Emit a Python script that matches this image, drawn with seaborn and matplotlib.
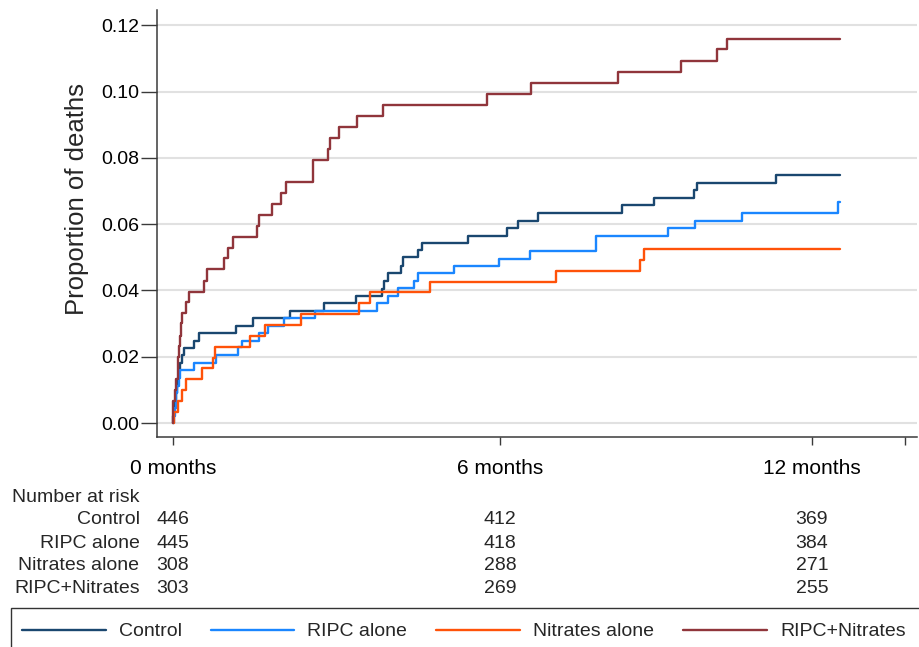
import numpy as np
import pandas as pd
import matplotlib
matplotlib.use("Agg")
import matplotlib.pyplot as plt
import matplotlib.transforms as mtransforms
from matplotlib.lines import Line2D
from matplotlib.patches import Rectangle
import seaborn as sns

# ---------------- data (time in days, cumulative proportion of deaths) ----------------
groups = ["Control", "RIPC alone", "Nitrates alone", "RIPC+Nitrates"]

ctrl_days = [0.3, 0.8, 1.2, 1.7, 2.3, 2.9, 3.4, 4.0, 5.3, 6.5, 12.2, 14.9, 35.8, 45.9, 66.8,
             86.3, 104.4, 119.2, 120.5, 123.0, 130.2, 131.5, 139.8, 142.4, 168.7, 190.8,
             197.1, 208.5, 256.7, 274.5, 297.4, 299.3, 344.7]
ctrl_prop = [0.0022, 0.0045, 0.0067, 0.0090, 0.0112, 0.0135, 0.0157, 0.0181, 0.0205, 0.0225,
             0.0248, 0.0271, 0.0294, 0.0316, 0.0338, 0.0361, 0.0384, 0.0404, 0.0429, 0.0453,
             0.0475, 0.0500, 0.0522, 0.0544, 0.0564, 0.0587, 0.0611, 0.0633, 0.0657, 0.0679,
             0.0702, 0.0725, 0.0749]

ripc_days = [0.5, 1.0, 1.5, 2.0, 2.6, 3.2, 4.0, 12.2, 24.7, 37.4, 39.6, 49.1, 54.4, 63.6,
             81.4, 116.4, 123.0, 128.3, 137.8, 139.8, 160.5, 186.4, 204.2, 241.6, 282.7,
             298.2, 325.3, 380.1]
ripc_prop = [0.0022, 0.0045, 0.0067, 0.0090, 0.0112, 0.0135, 0.0160, 0.0182, 0.0205, 0.0228,
             0.0249, 0.0271, 0.0294, 0.0316, 0.0338, 0.0361, 0.0383, 0.0406, 0.0428, 0.0452,
             0.0474, 0.0496, 0.0519, 0.0563, 0.0587, 0.0610, 0.0633, 0.0667]

nit_days = [0.8, 3.1, 5.1, 7.3, 16.6, 23.0, 24.0, 44.0, 52.6, 73.1, 106.2, 112.5, 146.8,
            218.9, 267.0, 268.9]
nit_prop = [0.0034, 0.0066, 0.0100, 0.0132, 0.0165, 0.0197, 0.0230, 0.0262, 0.0295, 0.0328,
            0.0361, 0.0394, 0.0426, 0.0458, 0.0491, 0.0525]

rn_days = [0.2, 1.1, 2.0, 3.0, 3.5, 4.0, 4.5, 5.0, 7.4, 9.3, 17.9, 19.6, 29.3, 31.6, 34.4,
           48.0, 49.1, 56.4, 61.5, 64.4, 80.1, 88.7, 89.7, 94.8, 105.3, 119.8, 179.2, 204.3,
           254.4, 290.2, 310.7, 316.2]
rn_prop = [0.0066, 0.0099, 0.0132, 0.0198, 0.0231, 0.0264, 0.0302, 0.0332, 0.0365, 0.0396,
           0.0429, 0.0464, 0.0497, 0.0529, 0.0562, 0.0595, 0.0627, 0.0661, 0.0695, 0.0727,
           0.0793, 0.0826, 0.0861, 0.0894, 0.0927, 0.0959, 0.0994, 0.1027, 0.1060, 0.1093,
           0.1127, 0.1160]

end_day = 381.0

tick_days = [0, 187, 365, 418]
tick_labels = ["0 months", "6 months", "12 months", ""]
y_ticks = [0.00, 0.02, 0.04, 0.06, 0.08, 0.10, 0.12]

risk_days = [0, 187, 365]
risk_ctrl = [446, 412, 369]
risk_ripc = [445, 418, 384]
risk_nit = [308, 288, 271]
risk_rn = [303, 269, 255]

colors = {"Control": "#1a476f", "RIPC alone": "#1a86ff",
          "Nitrates alone": "#ff5209", "RIPC+Nitrates": "#90353b"}

# ---------------- long table ----------------
series = {"Control": (ctrl_days, ctrl_prop), "RIPC alone": (ripc_days, ripc_prop),
          "Nitrates alone": (nit_days, nit_prop), "RIPC+Nitrates": (rn_days, rn_prop)}
rows = []
for g in groups:
    d, p = series[g]
    xs = [0.0] + list(d) + [end_day]
    ys = [0.0] + list(p) + [p[-1]]
    for x, y in zip(xs, ys):
        rows.append({"day": x, "prop": y, "group": g})
df = pd.DataFrame(rows)

# ---------------- style ----------------
sns.set_style("ticks")
plt.rcParams["font.family"] = ["Liberation Sans", "DejaVu Sans"]

W, H = 919, 647
fig = plt.figure(figsize=(W / 100, H / 100), dpi=100)
ax = fig.add_axes([157 / W, 1 - 437 / H, (917 - 157) / W, 427 / H])

ax.yaxis.grid(True, color="#e1e1e1", lw=1.5)
ax.xaxis.grid(False)
ax.set_axisbelow(True)

sns.lineplot(data=df, x="day", y="prop", hue="group", hue_order=groups, palette=colors,
             estimator=None, sort=False, drawstyle="steps-post", lw=1.7, legend=False, ax=ax)

ax.set_xlim(-9.1, 425)
ax.set_ylim(-0.0042, 0.1246)
ax.set_xticks(tick_days)
ax.set_xticklabels(tick_labels)
ax.set_yticks(y_ticks)
ax.set_yticklabels([f"{v:.2f}" for v in y_ticks])
ax.set_xlabel("")
ax.set_ylabel("")

for s in ["top", "right"]:
    ax.spines[s].set_visible(False)
for s in ["left", "bottom"]:
    ax.spines[s].set_color("#3a3a3a")
    ax.spines[s].set_linewidth(1.1)

ax.tick_params(axis="y", length=11.5, width=1.0, pad=1.5, labelsize=14,
               color="#3a3a3a", labelcolor="black", direction="out")
ax.tick_params(axis="x", length=6, width=1.0, pad=9.5, labelsize=15,
               color="#3a3a3a", labelcolor="black", direction="out")

fig.text(76.7 / W, 1 - 199 / H, "Proportion of deaths", rotation=90,
         ha="center", va="center", fontsize=18.5)

# ---------------- number at risk ----------------
trans = mtransforms.blended_transform_factory(ax.transData, fig.transFigure)
fig.text(12.5 / W, 1 - 497 / H, "Number at risk", ha="left", va="center", fontsize=14)
risk_rows = [("Control", risk_ctrl, 520), ("RIPC alone", risk_ripc, 543),
             ("Nitrates alone", risk_nit, 566), ("RIPC+Nitrates", risk_rn, 588.5)]
for name, vals, ypx in risk_rows:
    fig.text(139.5 / W, 1 - ypx / H, name, ha="right", va="center", fontsize=14)
    for d, v in zip(risk_days, vals):
        ax.text(d, 1 - ypx / H, str(v), transform=trans, ha="center", va="center",
                fontsize=14, clip_on=False)

# ---------------- legend ----------------
handles = [Line2D([0], [0], color=colors[g], lw=1.7) for g in groups]
fig.legend(handles, groups, loc="center left", bbox_to_anchor=(22 / W, 1 - 631.5 / H),
           bbox_transform=fig.transFigure, ncol=4, frameon=False, handlelength=4.3,
           handletextpad=0.67, columnspacing=1.5, borderpad=0, borderaxespad=0,
           fontsize=14)
fig.patches.append(Rectangle((10.6 / W, -0.1), (940 - 10.6) / W, 0.1 + (1 - 608.3 / H),
                             transform=fig.transFigure, fill=False, ec="#333333",
                             lw=1.0, clip_on=False))

fig.savefig("out.png", dpi=100)
